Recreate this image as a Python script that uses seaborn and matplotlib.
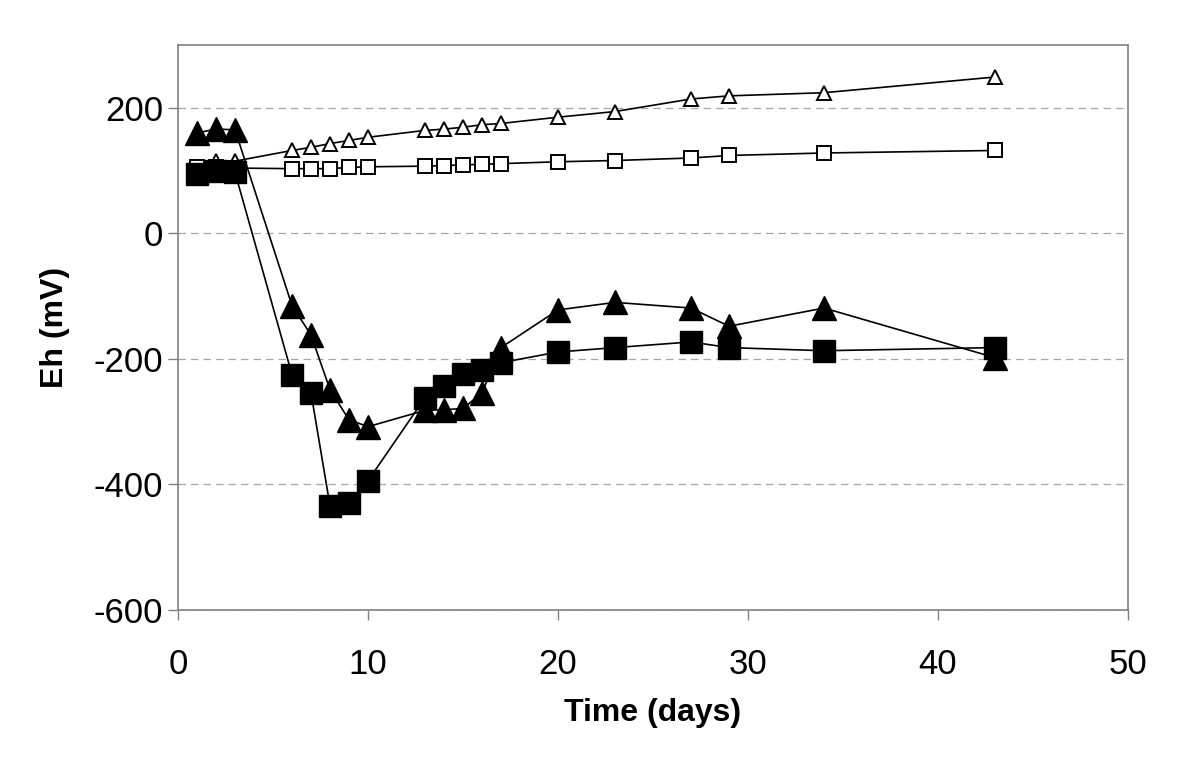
import matplotlib
matplotlib.use("Agg")
import matplotlib.pyplot as plt
import seaborn as sns
import pandas as pd

# ---- data ----
days = [1, 2, 3, 6, 7, 8, 9, 10, 13, 14, 15, 16, 17, 20, 23, 27, 29, 34, 43]
open_triangle = [100, 116, 115, 132, 137, 143, 148, 153, 164, 166, 169, 173, 175,
                 185, 194, 214, 219, 224, 249]
open_square = [105, 105, 104, 103, 103, 103, 105, 106, 107, 108, 109, 110, 111,
               114, 116, 120, 124, 128, 132]
filled_triangle = [160, 166, 165, -115, -162, -249, -297, -308, -282, -281, -279,
                   -254, -182, -122, -110, -119, -148, -119, -198]
filled_square = [95, 100, 97, -225, -254, -434, -429, -394, -262, -243, -224,
                 -217, -206, -189, -182, -173, -182, -187, -182]

x_ticks = [0, 10, 20, 30, 40, 50]
y_ticks = [-600, -400, -200, 0, 200]

sns.set_theme(style="white")
plt.rcParams["font.family"] = ["Liberation Sans", "DejaVu Sans"]
plt.rcParams["axes.unicode_minus"] = False

fig = plt.figure(figsize=(12, 7.72), dpi=100)
ax = fig.add_axes([178 / 1200, 1 - 610 / 772, 950 / 1200, 565 / 772])

ax.set_xlim(0, 50)
ax.set_ylim(-600, 300)
ax.set_xticks(x_ticks)
ax.set_yticks(y_ticks)
ax.yaxis.grid(True, linestyle=(0, (6, 4)), color="#a6a6a6", linewidth=0.9)
ax.set_axisbelow(True)

series = [
    (open_triangle, "^", "white", 10.5, 1.4),
    (open_square, "s", "white", 10.0, 1.4),
    (filled_triangle, "^", "black", 17.0, 1.0),
    (filled_square, "s", "black", 16.0, 1.0),
]
for vals, mk, fc, ms, mew in series:
    df = pd.DataFrame({"day": days, "eh": vals})
    sns.lineplot(data=df, x="day", y="eh", ax=ax, estimator=None, sort=False,
                 color="black", linewidth=1.2, marker=mk, markersize=ms,
                 markerfacecolor=fc, markeredgecolor="black", markeredgewidth=mew)

for s in ax.spines.values():
    s.set_visible(True)
    s.set_color("#808080")
    s.set_linewidth(1.2)

ax.tick_params(axis="both", which="major", direction="out", length=7.5, width=1,
               color="#808080", labelsize=25, labelcolor="black",
               bottom=True, left=True, top=False, right=False)
ax.tick_params(axis="x", pad=20)
ax.tick_params(axis="y", pad=3)
ax.set_xlabel("Time (days)", fontsize=23, fontweight="bold", labelpad=12,
              color="black")
ax.set_ylabel("Eh (mV)", fontsize=23, fontweight="bold", labelpad=17,
              color="black")

fig.savefig("out.png", dpi=100, facecolor="white")
